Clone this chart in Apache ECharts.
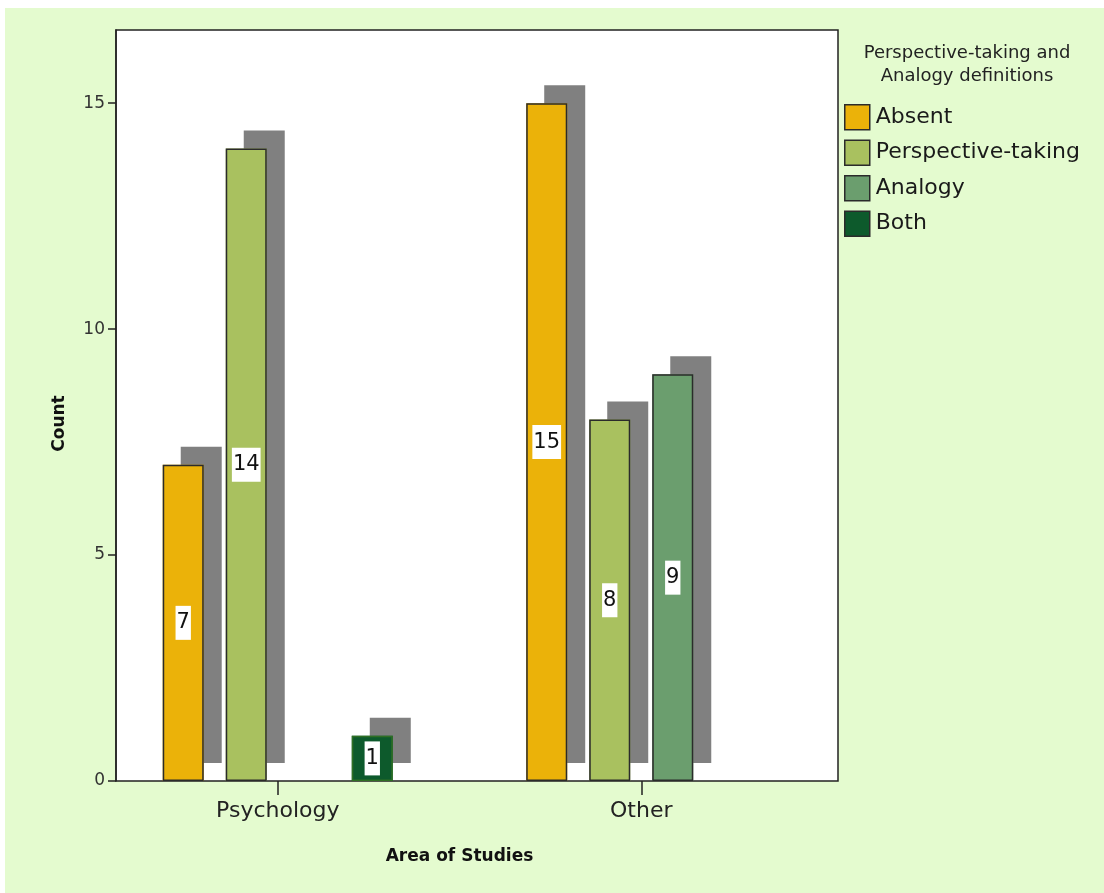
<!DOCTYPE html>
<html>
<head>
<meta charset="utf-8">
<script src="https://cdn.jsdelivr.net/npm/echarts@6/dist/echarts.min.js"></script>
<style>
  html, body { margin: 0; padding: 0; background: #ffffff; }
  #panel { position: absolute; left: 5px; top: 8px; right: 0; bottom: 0; background: #e4fbcf; }
  #chart { position: absolute; left: 0; top: 0; width: 1104px; height: 893px; }
</style>
</head>
<body>
<div id="panel"></div>
<div id="chart"></div>
<script>
// Study counts by area and definition type
const areas = ['Psychology', 'Other'];
const definitionTypes = ['Absent', 'Perspective-taking', 'Analogy', 'Both'];
const absentCounts = [7, 15];
const perspectiveCounts = [14, 8];
const analogyCounts = [0, 9];
const bothCounts = [1, 0];
const countTicks = [0, 5, 10, 15];

const seriesValues = [absentCounts, perspectiveCounts, analogyCounts, bothCounts];
const fills = ['#ebb209', '#a9c15f', '#6b9e6e', '#0d5a2c'];
const edges = ['#2b2b2b', '#2b2b2b', '#2b2b2b', '#2f6f24'];
const FONT = 'DejaVu Sans';
const BAR_W = 41;
const BAR_GAP = '53.7%';

// empty cells are left out rather than drawn as flat bars
const barData = vals => vals.map(v => (v === 0 ? '-' : v));

const chart = echarts.init(document.getElementById('chart'), null, { renderer: 'canvas' });

// drop-shadow layer: plain fills casting a grey offset shadow
const shadowSeries = definitionTypes.map((name, i) => ({
  name: name,
  type: 'bar',
  xAxisIndex: 0,
  yAxisIndex: 0,
  barWidth: BAR_W,
  barGap: BAR_GAP,
  data: barData(seriesValues[i]),
  itemStyle: {
    color: fills[i],
    borderWidth: 0,
    shadowColor: '#808080',
    shadowBlur: 0,
    shadowOffsetX: 18,
    shadowOffsetY: -18
  },
  silent: true,
  emphasis: { disabled: true },
  z: 2
}));

// bar face layer: outlined bars with value labels
const faceSeries = definitionTypes.map((name, i) => ({
  name: name,
  type: 'bar',
  xAxisIndex: 2,
  yAxisIndex: 0,
  barWidth: BAR_W,
  barGap: BAR_GAP,
  data: barData(seriesValues[i]),
  itemStyle: {
    color: fills[i],
    borderColor: edges[i],
    borderWidth: 1.5
  },
  label: {
    show: true,
    position: 'inside',
    formatter: p => String(p.value),
    fontFamily: FONT,
    fontSize: 21,
    lineHeight: 24,
    color: '#111111',
    backgroundColor: '#ffffff',
    padding: [5, 1]
  },
  emphasis: { disabled: true },
  z: 3
}));

const option = {
  backgroundColor: 'transparent',
  animation: false,
  textStyle: { fontFamily: FONT },
  grid: [
    // bar placement grid
    { left: 96, width: 727, top: 30, bottom: 112, show: false },
    // plot frame with the count scale
    { left: 116, width: 722, top: 30, bottom: 112, show: true,
      backgroundColor: '#ffffff', borderColor: '#222222', borderWidth: 1.5 }
  ],
  xAxis: [
    {
      type: 'category',
      gridIndex: 0,
      data: areas,
      boundaryGap: true,
      axisLine: { show: false },
      axisTick: { show: true, alignWithLabel: true, length: 14,
        lineStyle: { color: '#222222', width: 1.5 } },
      axisLabel: { fontFamily: FONT, fontSize: 22, color: '#222222', margin: 19 },
      name: 'Area of Studies',
      nameLocation: 'middle',
      nameGap: 67,
      nameTextStyle: { fontFamily: FONT, fontSize: 17, fontWeight: 'bold', color: '#111111' }
    },
    {
      type: 'category',
      gridIndex: 1,
      data: areas,
      show: false
    },
    {
      type: 'category',
      gridIndex: 0,
      data: areas,
      boundaryGap: true,
      show: false
    }
  ],
  yAxis: [
    {
      type: 'value',
      gridIndex: 0,
      min: 0,
      max: 16.62,
      show: false
    },
    {
      type: 'value',
      gridIndex: 1,
      min: 0,
      max: 16.62,
      interval: 5,
      axisLine: { show: true, lineStyle: { color: '#222222', width: 1.5 } },
      axisTick: { show: true, length: 8, customValues: countTicks,
        lineStyle: { color: '#222222', width: 1.5 } },
      axisLabel: {
        fontFamily: FONT, fontSize: 17, color: '#333333', margin: 11,
        customValues: countTicks
      },
      splitLine: { show: false },
      name: 'Count',
      nameLocation: 'middle',
      nameGap: 48,
      nameTextStyle: { fontFamily: FONT, fontSize: 17, fontWeight: 'bold', color: '#111111',
        padding: [0, 36, 0, 0] }
    }
  ],
  legend: {
    orient: 'vertical',
    left: 839,
    top: 99,
    itemWidth: 25,
    itemHeight: 25,
    itemGap: 9,
    icon: 'rect',
    selectedMode: false,
    data: definitionTypes,
    itemStyle: { borderColor: '#2b2b2b', borderWidth: 1.5, shadowBlur: 0,
      shadowOffsetX: 0, shadowOffsetY: 0, shadowColor: 'transparent' },
    textStyle: { fontFamily: FONT, fontSize: 22, lineHeight: 25, color: '#1a1a1a',
      padding: [0, 0, 0, 1] }
  },
  graphic: [
    {
      type: 'text',
      x: 967,
      y: 42,
      style: {
        text: 'Perspective-taking and\nAnalogy definitions',
        fontFamily: FONT,
        fontSize: 18,
        lineHeight: 23,
        fill: '#222222',
        align: 'center',
        verticalAlign: 'top'
      }
    }
  ],
  series: shadowSeries.concat(faceSeries)
};

chart.setOption(option);
</script>
</body>
</html>
